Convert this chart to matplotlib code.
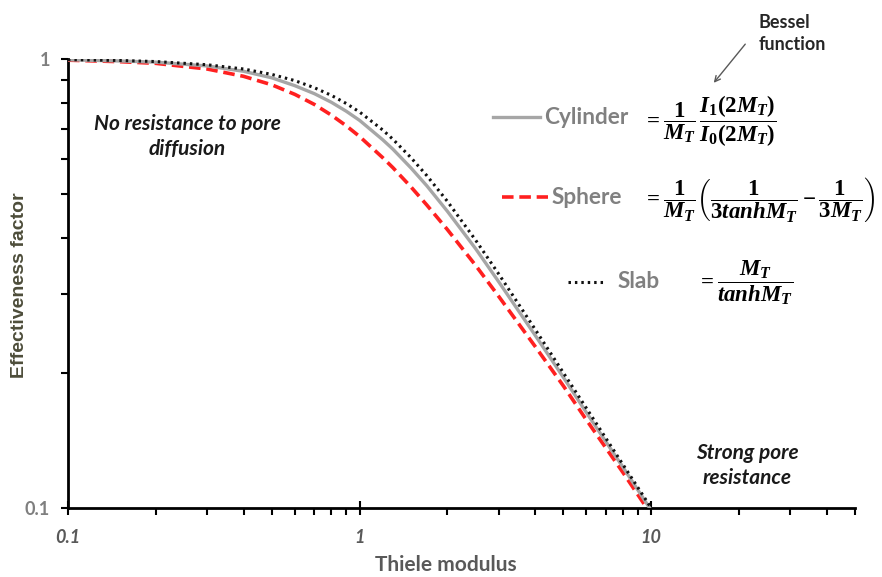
import matplotlib
matplotlib.use("Agg")
import matplotlib.pyplot as plt
from matplotlib.lines import Line2D
from matplotlib.ticker import LogLocator, NullFormatter, FixedLocator, FixedFormatter

# ---- data ----
thiele = [0.1, 0.15, 0.2, 0.3, 0.4, 0.5, 0.6, 0.7, 0.8, 0.9, 1.0, 1.2, 1.3, 1.5, 1.7,
          2.0, 2.5, 3.0, 4.0, 5.0, 6.0, 8.0, 10.0]
slab = [0.997, 0.9925, 0.987, 0.971, 0.950, 0.924, 0.895, 0.863, 0.830, 0.796, 0.762,
        0.695, 0.663, 0.603, 0.550, 0.482, 0.395, 0.332, 0.250, 0.200, 0.1667, 0.125, 0.100]
cylinder = [0.996, 0.990, 0.984, 0.965, 0.939, 0.908, 0.872, 0.837, 0.801, 0.765, 0.730,
            0.661, 0.630, 0.572, 0.522, 0.458, 0.378, 0.319, 0.2425, 0.1954, 0.163, 0.1233, 0.0988]
sphere = [0.994, 0.9865, 0.978, 0.950, 0.915, 0.876, 0.834, 0.792, 0.750, 0.710, 0.672,
          0.603, 0.573, 0.519, 0.473, 0.417, 0.347, 0.296, 0.229, 0.187, 0.157, 0.120, 0.0967]
x_tick_labels = ["0.1", "1", "10"]
y_tick_labels = ["0.1", "1"]

plt.rcParams['mathtext.fontset'] = 'custom'
plt.rcParams['mathtext.it'] = 'Liberation Serif:italic:bold'
plt.rcParams['mathtext.rm'] = 'Liberation Serif:bold'
plt.rcParams['mathtext.bf'] = 'Liberation Serif:bold'

W, H = 882, 577
fig = plt.figure(figsize=(W / 100, H / 100), dpi=100)
ax = fig.add_axes([68 / W, 1 - 508 / H, (855 - 68) / W, (508 - 59) / H])

ax.plot(thiele, sphere, color="#ff2020", lw=2.6, ls=(0, (3.2, 1.6)), zorder=3, clip_on=True)
ax.plot(thiele, cylinder, color="#a6a6a6", lw=2.4, ls="-", zorder=4, clip_on=True)
ax.plot(thiele, slab, color="#111111", lw=2.2, ls=(0, (0.8, 1.3)), zorder=5, clip_on=True)

ax.set_xscale("log")
ax.set_yscale("log")
ax.set_xlim(0.1, 50)
ax.set_ylim(0.1, 1)

for s in ["top", "right"]:
    ax.spines[s].set_visible(False)
for s in ["left", "bottom"]:
    ax.spines[s].set_linewidth(2)
    ax.spines[s].set_color("black")

ax.xaxis.set_major_locator(FixedLocator([0.1, 1, 10]))
ax.xaxis.set_major_formatter(FixedFormatter(x_tick_labels))
ax.xaxis.set_minor_locator(LogLocator(base=10, subs=range(2, 10), numticks=20))
ax.xaxis.set_minor_formatter(NullFormatter())
ax.yaxis.set_major_locator(FixedLocator([0.1, 1]))
ax.yaxis.set_major_formatter(FixedFormatter(y_tick_labels))
ax.yaxis.set_minor_locator(LogLocator(base=10, subs=range(2, 10), numticks=20))
ax.yaxis.set_minor_formatter(NullFormatter())

ax.tick_params(axis="x", which="major", direction="inout", length=10, width=1.5, pad=10,
               labelsize=13, labelcolor="#595959")
ax.tick_params(axis="x", which="minor", direction="out", length=5, width=1.5)
ax.tick_params(axis="y", which="major", direction="out", length=5, width=1.5, pad=8,
               labelsize=13, labelcolor="#7f7f7f")
ax.tick_params(axis="y", which="minor", direction="out", length=5, width=1.5)
for lab in ax.get_xticklabels():
    lab.set_fontstyle("italic")
    lab.set_fontfamily("Lato")
    lab.set_fontweight("bold")
for lab in ax.get_yticklabels():
    lab.set_fontfamily("Lato")
    lab.set_fontweight("bold")

fig.text(446 / W, 1 - 565 / H, "Thiele modulus", ha="center", va="center",
         fontsize=15, fontweight="bold", family="Lato", color="#595959")
fig.text(20 / W, 1 - 285 / H, "Effectiveness factor", ha="center", va="center",
         rotation=90, fontsize=14, fontweight="bold", family="Liberation Sans", color="#4d4d3a")

def ftxt(x, y, s, **kw):
    fig.text(x / W, 1 - y / H, s, **kw)

note = dict(ha="center", va="center", fontsize=15, fontweight="bold", fontstyle="italic",
            family="Lato", color="#1a1a1a")
ftxt(187, 124, "No resistance to pore", **note)
ftxt(187, 149, "diffusion", **note)
ftxt(747, 453, "Strong pore", **note)
ftxt(747, 478, "resistance", **note)

ftxt(759, 22, "Bessel", ha="left", va="center", fontsize=13,
     fontweight="bold", family="Lato", color="#262626")
ftxt(759, 45, "function", ha="left", va="center", fontsize=13,
     fontweight="bold", family="Lato", color="#262626")
fig.add_artist(plt.Annotation("", xy=(712 / W, 1 - 85 / H), xytext=(747 / W, 1 - 42 / H),
                              xycoords="figure fraction", textcoords="figure fraction",
                              arrowprops=dict(arrowstyle="->", color="#595959", lw=1.0)))

def fline(x1, x2, y, **kw):
    fig.add_artist(Line2D([x1 / W, x2 / W], [1 - y / H, 1 - y / H], transform=fig.transFigure, **kw))

lab = dict(ha="left", va="center", fontsize=16.3, fontweight="bold", family="Lato", color="#808080")
fline(493, 540, 117, color="#a6a6a6", lw=2.4)
ftxt(544, 117, "Cylinder", **lab)
fline(502, 548, 197, color="#ff2020", lw=2.6, ls=(0, (3.2, 1.6)))
ftxt(552, 197, "Sphere", **lab)
fline(568, 604, 282, color="#111111", lw=2.2, ls=(0, (0.8, 1.3)))
ftxt(618, 282, "Slab", **lab)

ftxt(643, 121, r"$=\dfrac{1}{M_T}\,\dfrac{I_1(2M_T)}{I_0(2M_T)}$", ha="left", va="center",
     fontsize=16.5, color="black")
ftxt(643, 200, r"$=\dfrac{1}{M_T}\left(\dfrac{1}{3tanhM_T}-\dfrac{1}{3M_T}\right)$", ha="left",
     va="center", fontsize=16.5, color="black")
ftxt(697, 283, r"$=\dfrac{M_T}{tanhM_T}$", ha="left", va="center", fontsize=16.5, color="black")

fig.savefig("out.png", dpi=100)
